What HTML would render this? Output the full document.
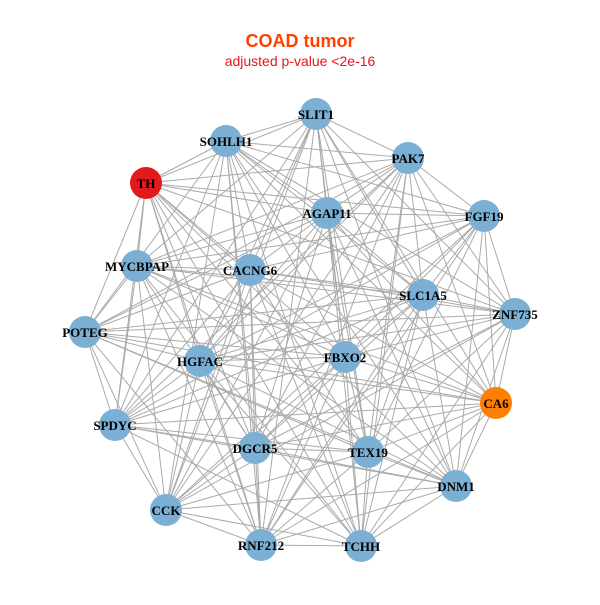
<!DOCTYPE html>
<html><head><meta charset="utf-8"><style>
html,body{margin:0;padding:0;background:#fff;}
svg text{font-family:"Liberation Serif",serif;font-weight:bold;font-size:13px;}
</style></head><body>
<svg id="s" width="600" height="600" xmlns="http://www.w3.org/2000/svg">
<rect width="600" height="600" fill="#fff"/>
<text x="300" y="47" text-anchor="middle" style="font-family:'Liberation Sans',sans-serif;font-size:18px;font-weight:bold" fill="#ff4000">COAD tumor</text>
<text x="300" y="66" text-anchor="middle" style="font-family:'Liberation Sans',sans-serif;font-size:14px;font-weight:normal" fill="#e8141c">adjusted p-value &lt;2e-16</text>
<g id="e" stroke="#aaaaaa" stroke-width="1"></g>
<g id="n"></g>
</svg>
<script>
var N=[["SLIT1",316,114,"#7bafd4"],["SOHLH1",226,141,"#7bafd4"],["PAK7",408,158,"#7bafd4"],["TH",146,183,"#e31a1c"],["AGAP11",327,213,"#7bafd4"],["FGF19",484,216,"#7bafd4"],["MYCBPAP",137,266,"#7bafd4"],["CACNG6",250,270,"#7bafd4"],["SLC1A5",423,295,"#7bafd4"],["ZNF735",515,314,"#7bafd4"],["POTEG",85,332,"#7bafd4"],["HGFAC",200,361,"#7bafd4"],["FBXO2",345,357,"#7bafd4"],["CA6",496,403,"#ff7f00"],["SPDYC",115,425,"#7bafd4"],["DGCR5",255,448,"#7bafd4"],["TEX19",368,452,"#7bafd4"],["DNM1",456,486,"#7bafd4"],["CCK",166,510,"#7bafd4"],["RNF212",261,545,"#7bafd4"],["TCHH",361,546,"#7bafd4"]];
var ns="http://www.w3.org/2000/svg",e=document.getElementById("e"),g=document.getElementById("n");
for(var i=0;i<N.length;i++)for(var j=i+1;j<N.length;j++){if((i*7+j*3)%5==0)continue;var l=document.createElementNS(ns,"line");l.setAttribute("x1",N[i][1]);l.setAttribute("y1",N[i][2]);l.setAttribute("x2",N[j][1]);l.setAttribute("y2",N[j][2]);e.appendChild(l);}
N.forEach(function(a){var c=document.createElementNS(ns,"circle");c.setAttribute("cx",a[1]);c.setAttribute("cy",a[2]);c.setAttribute("r",16);c.setAttribute("fill",a[3]);g.appendChild(c);var t=document.createElementNS(ns,"text");t.setAttribute("x",a[1]);t.setAttribute("y",a[2]+5);t.setAttribute("text-anchor","middle");t.textContent=a[0];g.appendChild(t);});
</script>
</body></html>
